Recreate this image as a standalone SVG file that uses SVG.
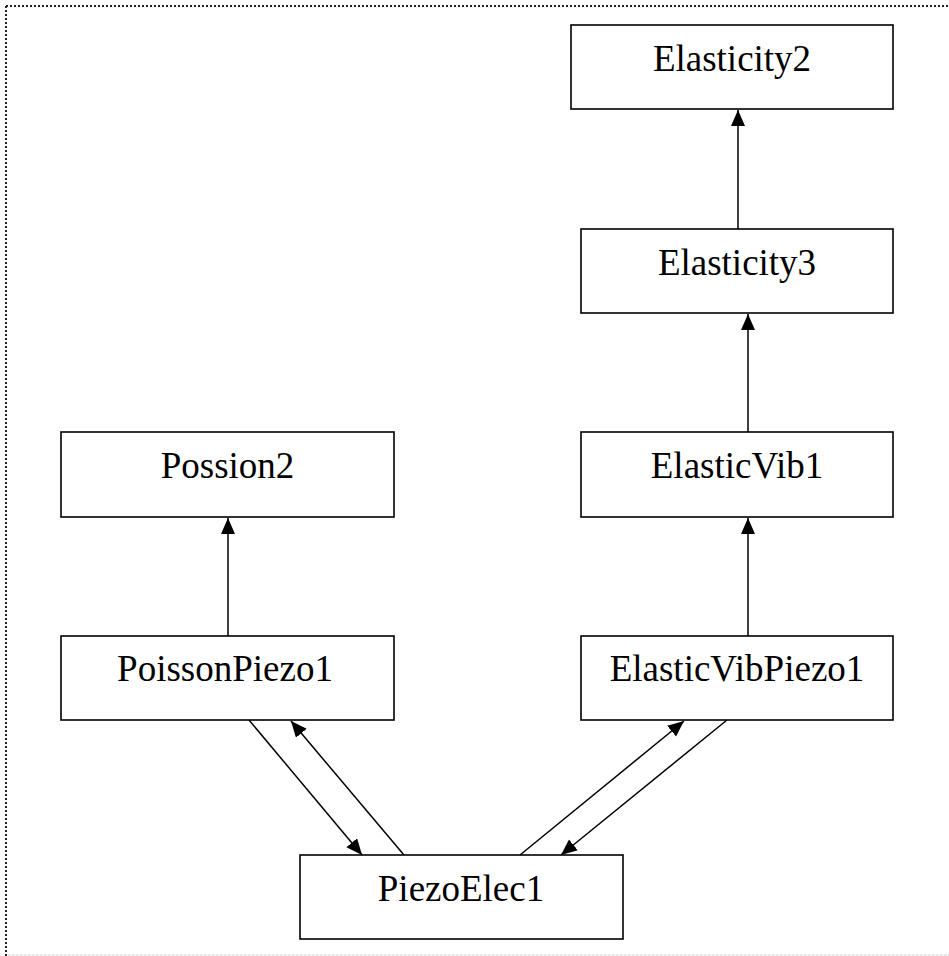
<svg xmlns="http://www.w3.org/2000/svg" width="949" height="956" viewBox="0 0 949 956">
<style>
.box{fill:#fff;stroke:#000;stroke-width:1.6}
.lbl{font-family:"Liberation Serif","Times New Roman",serif;font-size:37px;fill:#000;text-anchor:middle}
.edge{stroke:#000;stroke-width:1.5;fill:none;marker-end:url(#arr)}
</style>
<defs>
<marker id="arr" markerUnits="userSpaceOnUse" markerWidth="17" markerHeight="15" refX="16" refY="7" orient="auto">
<path d="M0,0 L16,7 L0,14 z" fill="#000"/>
</marker>
</defs>
<rect width="949" height="956" fill="#fff"/>
<g id="frame">
<line x1="6" y1="6" x2="949" y2="6" stroke="#222" stroke-width="2" stroke-dasharray="2 2"/>
<line x1="6" y1="6" x2="6" y2="956" stroke="#222" stroke-width="2" stroke-dasharray="2 2"/>
<line x1="8" y1="955" x2="949" y2="955" stroke="#ddd" stroke-width="1.5" stroke-dasharray="2.5 1.5"/>
</g>
<g id="connectors">
<line class="edge" x1="738" y1="229" x2="738" y2="110"/>
<line class="edge" x1="748" y1="432" x2="748" y2="314"/>
<line class="edge" x1="748" y1="636" x2="748" y2="518"/>
<line class="edge" x1="228" y1="636" x2="228" y2="518"/>
<line class="edge" x1="249" y1="720" x2="362" y2="855"/>
<line class="edge" x1="404" y1="855" x2="291" y2="721"/>
<line class="edge" x1="520" y1="855" x2="684" y2="721"/>
<line class="edge" x1="727" y1="720" x2="561" y2="855"/>
</g>
<g id="Elasticity2"><rect class="box" x="571" y="25" width="322" height="84"/><text class="lbl" x="732" y="71">Elasticity2</text></g>
<g id="Elasticity3"><rect class="box" x="581" y="229" width="312" height="84"/><text class="lbl" x="737" y="275">Elasticity3</text></g>
<g id="ElasticVib1"><rect class="box" x="581" y="432" width="312" height="85"/><text class="lbl" x="737" y="478">ElasticVib1</text></g>
<g id="Possion2"><rect class="box" x="61" y="432" width="333" height="85"/><text class="lbl" x="227.5" y="478">Possion2</text></g>
<g id="PoissonPiezo1"><rect class="box" x="61" y="636" width="333" height="84"/><text class="lbl" x="225" y="681">PoissonPiezo1</text></g>
<g id="ElasticVibPiezo1"><rect class="box" x="581" y="636" width="312" height="84"/><text class="lbl" x="737" y="681">ElasticVibPiezo1</text></g>
<g id="PiezoElec1"><rect class="box" x="300" y="855" width="323" height="84"/><text class="lbl" x="461" y="901">PiezoElec1</text></g>
</svg>
